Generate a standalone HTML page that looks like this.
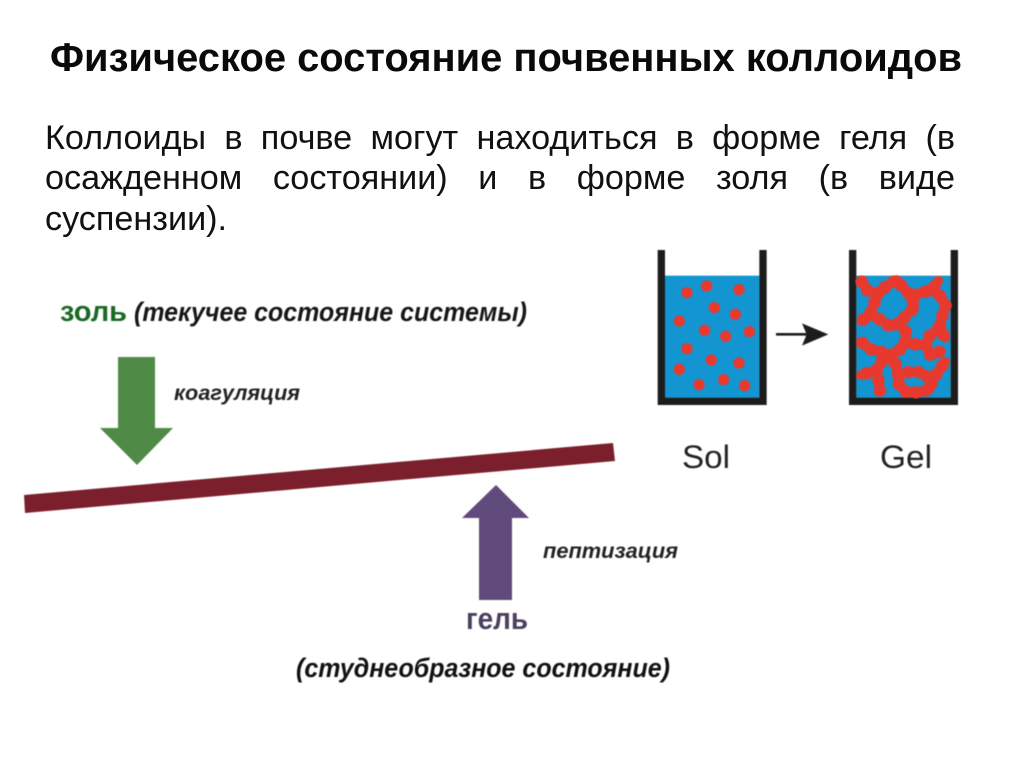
<!DOCTYPE html>
<html lang="ru"><head><meta charset="utf-8"><title>Физическое состояние почвенных коллоидов</title>
<style>
html,body{margin:0;padding:0;background:#fff}
#p{position:relative;width:1024px;height:767px;overflow:hidden;background:#fff;font-family:"Liberation Sans",sans-serif;color:#000}
.l{position:absolute;left:45px;width:910px;font-size:34.2px;line-height:40px;text-align:justify;text-align-last:justify;white-space:nowrap;color:#111}
svg{position:absolute;left:0;top:0}
.b{filter:blur(.4px)}
.u{fill:none;stroke:#e8392f;stroke-width:29;stroke-linecap:round;stroke-linejoin:round}
.v{fill:none;stroke:#e8392f;stroke-width:38;stroke-linecap:round;stroke-linejoin:round;stroke-dasharray:0 31}
</style></head><body><div id="p">
<svg width="1024" height="767" viewBox="0 0 1024 767" font-family="'Liberation Sans',sans-serif">
<text x="50" y="71" font-size="39.5" font-weight="700" fill="#0a0a0a" textLength="912" lengthAdjust="spacingAndGlyphs">Физическое состояние почвенных коллоидов</text>
<g class="b">
<polygon points="24,495 613,443 615,461 25,513" fill="#7a1f2b"/>
<polygon points="118,357 155,357 155,428 173,428 137,465 100,428 118,428" fill="#4f8a46"/>
<polygon points="496,485 529,518 512,518 512,600 479,600 479,518 462,518" fill="#614a7c"/>
<text x="60" y="321" font-size="29" font-weight="700" fill="#1a6a24" textLength="67" lengthAdjust="spacingAndGlyphs">золь</text>
<text x="134" y="321" font-size="27" font-weight="700" font-style="italic" fill="#161616" textLength="393" lengthAdjust="spacingAndGlyphs">(текучее состояние системы)</text>
<text x="174" y="400" font-size="21" font-weight="700" font-style="italic" fill="#222" textLength="126" lengthAdjust="spacingAndGlyphs">коагуляция</text>
<text x="543" y="558" font-size="21" font-weight="700" font-style="italic" fill="#222" textLength="135" lengthAdjust="spacingAndGlyphs">пептизация</text>
<text x="466" y="629" font-size="31" font-weight="700" fill="#4a3f5f" textLength="62" lengthAdjust="spacingAndGlyphs">гель</text>
<text x="296" y="677" font-size="27" font-weight="700" font-style="italic" fill="#111" textLength="374" lengthAdjust="spacingAndGlyphs">(студнеобразное состояние)</text>
<g transform="translate(640,240) scale(.33333)">
<rect x="75" y="107" width="283" height="366" fill="#1295d0"/>
<path d="M53 30H75V473H358V30H380V495H53Z" fill="#1c1c1c"/>
<g fill="#e8392f">
<circle cx="141" cy="158" r="17"/><circle cx="200" cy="138" r="17"/><circle cx="297" cy="149" r="17"/><circle cx="223" cy="203" r="17"/><circle cx="286" cy="223" r="17"/><circle cx="118" cy="243" r="17"/><circle cx="194" cy="271" r="17"/><circle cx="257" cy="289" r="17"/><circle cx="328" cy="275" r="17"/><circle cx="141" cy="326" r="17"/><circle cx="214" cy="360" r="17"/><circle cx="297" cy="369" r="17"/><circle cx="118" cy="388" r="17"/><circle cx="177" cy="434" r="17"/><circle cx="251" cy="419" r="17"/><circle cx="314" cy="437" r="17"/>
</g>
<path d="M408 283H500" stroke="#1c1c1c" stroke-width="8" fill="none"/>
<polygon points="565,283 486,250 500,283 486,317" fill="#1c1c1c"/>
<rect x="649" y="107" width="283" height="366" fill="#1295d0"/>
<path d="M627 30H649V473H932V30H954V495H627Z" fill="#1c1c1c"/>
</g>
<g transform="translate(845,265) scale(.33333)">
<g class="u">
<path d="M50 50L70 80L100 85L125 62L155 45L178 72L200 95L230 82L262 75L280 47"/>
<path d="M262 75L287 95L302 122L291 155L283 190L300 218"/>
<path d="M100 85L88 115L75 148L50 168"/>
<path d="M75 148L108 165L135 185L162 175L185 150L208 128L200 95"/>
<path d="M162 175L185 203L180 235L160 258L135 270L105 260L75 252L48 230"/>
<path d="M180 235L213 238L243 240L255 210L283 190"/>
<path d="M243 240L257 272L288 258"/>
<path d="M135 270L108 292L95 315L48 330"/>
<path d="M95 315L100 345L105 378"/>
<path d="M135 270L153 300L160 330L162 360L185 382L222 382L255 372L262 345L280 320L300 290"/>
<path d="M160 330L195 320L228 322L262 345"/>
</g>
<g class="v">
<path d="M50 50L70 80L100 85L125 62L155 45L178 72L200 95L230 82L262 75L280 47"/>
<path d="M262 75L287 95L302 122L291 155L283 190L300 218"/>
<path d="M100 85L88 115L75 148L50 168"/>
<path d="M75 148L108 165L135 185L162 175L185 150L208 128L200 95"/>
<path d="M162 175L185 203L180 235L160 258L135 270L105 260L75 252L48 230"/>
<path d="M180 235L213 238L243 240L255 210L283 190"/>
<path d="M243 240L257 272L288 258"/>
<path d="M135 270L108 292L95 315L48 330"/>
<path d="M95 315L100 345L105 378"/>
<path d="M135 270L153 300L160 330L162 360L185 382L222 382L255 372L262 345L280 320L300 290"/>
<path d="M160 330L195 320L228 322L262 345"/>
</g>
</g>
<text x="682" y="468" font-size="32" fill="#222" textLength="48" lengthAdjust="spacingAndGlyphs">Sol</text>
<text x="880" y="468" font-size="32" fill="#222" textLength="52" lengthAdjust="spacingAndGlyphs">Gel</text>
</g>
</svg>
<div class="l" style="top:118px">Коллоиды в почве могут находиться в форме геля (в</div>
<div class="l" style="top:158px">осажденном состоянии) и в форме золя (в виде</div>
<div class="l" style="top:199px;text-align:left;text-align-last:left">суспензии).</div>
</div></body></html>
